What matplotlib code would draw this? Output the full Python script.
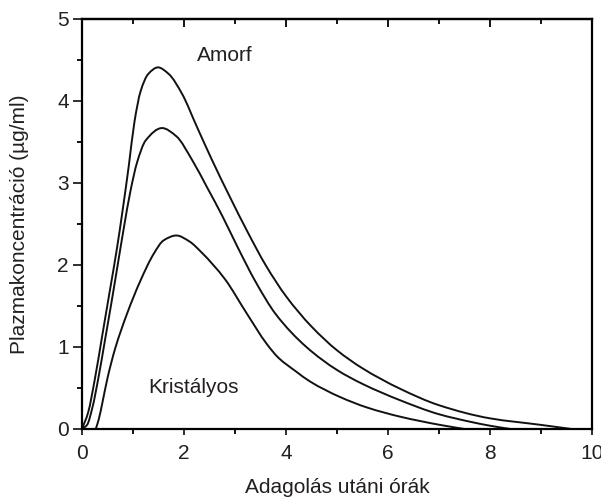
import numpy as np
import matplotlib.pyplot as plt
from matplotlib.path import Path
from matplotlib.patches import PathPatch
from matplotlib.ticker import MultipleLocator

# (hours, ug/ml)
amorf_x = [0.00, 0.12, 0.25, 0.40, 0.55, 0.68, 0.80, 0.92, 1.03, 1.15, 1.30, 1.49,
           1.70, 1.96, 2.25, 2.55, 2.90, 3.25, 3.60, 4.00, 4.50, 5.00, 5.50, 6.24,
           7.00, 8.00, 9.00, 9.60]
amorf_y = [0.00, 0.20, 0.60, 1.15, 1.70, 2.18, 2.68, 3.22, 3.75, 4.12, 4.33, 4.41,
           4.33, 4.09, 3.69, 3.28, 2.83, 2.40, 2.00, 1.62, 1.25, 0.96, 0.74, 0.49,
           0.29, 0.13, 0.05, 0.00]

mid_x = [0.00, 0.10, 0.20, 0.33, 0.45, 0.58, 0.70, 0.82, 0.95, 1.08, 1.25, 1.57,
         1.85, 2.16, 2.45, 2.75, 3.05, 3.40, 3.80, 4.40, 5.00, 5.50, 6.24, 7.00,
         7.60, 8.00, 8.40]
mid_y = [0.00, 0.05, 0.25, 0.65, 1.08, 1.55, 2.00, 2.45, 2.90, 3.25, 3.52, 3.67,
         3.57, 3.28, 2.95, 2.60, 2.22, 1.80, 1.40, 1.00, 0.72, 0.55, 0.35, 0.18,
         0.09, 0.04, 0.00]

krist_x = [0.27, 0.33, 0.40, 0.50, 0.65, 0.88, 1.14, 1.41, 1.60, 1.85, 2.10, 2.35,
           2.80, 3.23, 3.62, 3.85, 4.20, 4.47, 5.06, 5.60, 6.24, 7.02, 7.50]
krist_y = [0.00, 0.12, 0.32, 0.62, 0.98, 1.40, 1.80, 2.14, 2.30, 2.36, 2.29, 2.15,
           1.83, 1.41, 1.04, 0.87, 0.70, 0.58, 0.39, 0.26, 0.15, 0.05, 0.00]

x_ticks = [0, 2, 4, 6, 8, 10]
y_ticks = [0, 1, 2, 3, 4, 5]

plt.rcParams['font.family'] = ['Liberation Sans', 'DejaVu Sans']
text_color = '#231f20'


def smooth_path(xs, ys):
    # monotone cubic (pchip-style) bezier through the read points, drawing only
    x = np.asarray(xs, float)
    y = np.asarray(ys, float)
    h = np.diff(x)
    d = np.diff(y) / h
    m = np.zeros_like(y)
    m[0], m[-1] = d[0], d[-1]
    for k in range(1, len(x) - 1):
        if d[k - 1] * d[k] > 0:
            w1 = 2 * h[k] + h[k - 1]
            w2 = h[k] + 2 * h[k - 1]
            m[k] = (w1 + w2) / (w1 / d[k - 1] + w2 / d[k])
    verts = [(x[0], y[0])]
    codes = [Path.MOVETO]
    for k in range(len(x) - 1):
        verts += [(x[k] + h[k] / 3, y[k] + m[k] * h[k] / 3),
                  (x[k + 1] - h[k] / 3, y[k + 1] - m[k + 1] * h[k] / 3),
                  (x[k + 1], y[k + 1])]
        codes += [Path.CURVE4] * 3
    return Path(verts, codes)


fig = plt.figure(figsize=(6.01, 5.0), dpi=100)
ax = fig.add_axes([0.1364, 0.142, 0.8486, 0.820])

for xs, ys in [(amorf_x, amorf_y), (mid_x, mid_y), (krist_x, krist_y)]:
    ax.add_patch(PathPatch(smooth_path(xs, ys), fill=False, edgecolor='#111111',
                           lw=1.4, capstyle='round'))

ax.set_xlim(0, 10)
ax.set_ylim(0, 5)
ax.set_xticks(x_ticks)
ax.set_yticks(y_ticks)
ax.xaxis.set_minor_locator(MultipleLocator(1))
ax.yaxis.set_minor_locator(MultipleLocator(0.5))

for sp in ax.spines.values():
    sp.set_linewidth(1.6)
    sp.set_color('black')

ax.tick_params(axis='x', which='major', direction='out', length=4.5, width=1.3,
               labelsize=15, pad=6, colors=text_color)
ax.tick_params(axis='x', which='minor', direction='out', length=3.5, width=1.3)
ax.tick_params(axis='y', which='major', direction='out', length=6.5, width=1.3,
               labelsize=15, pad=3, colors=text_color)
ax.tick_params(axis='y', which='minor', direction='out', length=3.5, width=1.3)

# top axis: inward ticks, no labels
top = ax.secondary_xaxis('top')
top.set_xticks(x_ticks)
top.xaxis.set_minor_locator(MultipleLocator(1))
top.tick_params(which='major', direction='in', length=6, width=1.3, labeltop=False)
top.tick_params(which='minor', direction='in', length=3.5, width=1.3)
top.spines['top'].set_linewidth(1.6)

ax.set_xlabel('Adagolás utáni órák', fontsize=15, color=text_color, labelpad=11)
ax.set_ylabel('Plazmakoncentráció (µg/ml)', fontsize=15, color=text_color, labelpad=20)

ax.text(2.8, 4.56, 'Amorf', fontsize=15, color=text_color, ha='center', va='center')
ax.text(2.18, 0.51, 'Kristályos', fontsize=15, color=text_color, ha='center', va='center')

fig.savefig('out.png', dpi=100)
